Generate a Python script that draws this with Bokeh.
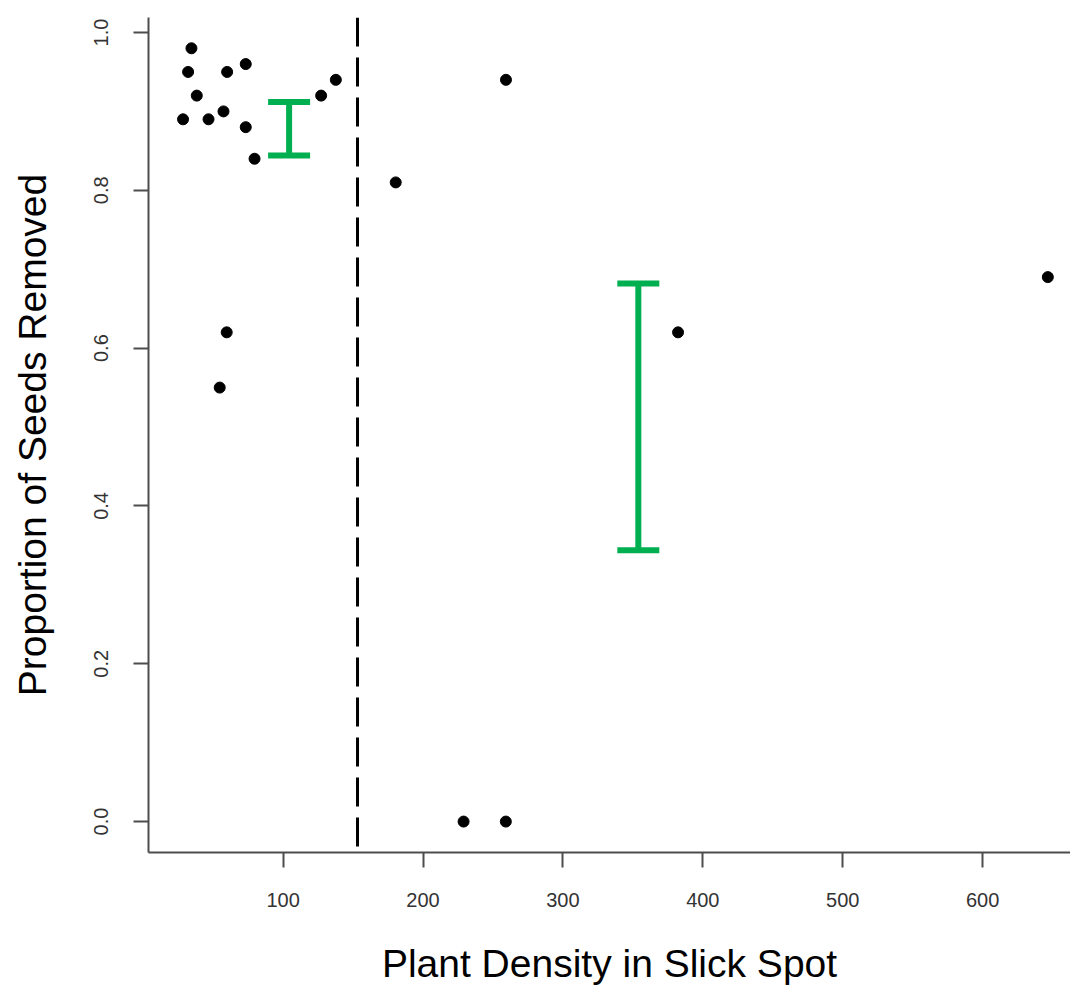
from bokeh.plotting import figure
from bokeh.models import (ColumnDataSource, Range1d, FixedTicker, Span, Whisker,
                          TeeHead, PrintfTickFormatter)
from bokeh.embed import file_html
from bokeh.resources import INLINE

# ---- data ----
density = [34.5, 32.1, 60.0, 73.3, 38.3, 28.5, 46.7, 57.4, 73.3, 79.6,
           127.2, 137.7, 180.5, 259.3, 59.7, 54.7, 382.3, 646.6, 229.0, 259.2]
removed = [0.98, 0.95, 0.95, 0.96, 0.92, 0.89, 0.89, 0.90, 0.88, 0.84,
           0.92, 0.94, 0.81, 0.94, 0.62, 0.55, 0.62, 0.69, 0.0, 0.0]

threshold = 153.2

ci_x = [104.3, 353.9]
ci_lower = [0.844, 0.344]
ci_upper = [0.912, 0.682]

x_ticks = [100, 200, 300, 400, 500, 600]
y_ticks = [0.0, 0.2, 0.4, 0.6, 0.8, 1.0]

x_title = "Plant Density in Slick Spot"
y_title = "Proportion of Seeds Removed"

# ---- figure ----
p = figure(width=1070, height=987, output_backend="svg", toolbar_location=None,
           x_range=Range1d(3.8, 662.8), y_range=Range1d(-0.0392, 1.019),
           min_border_left=148, min_border_right=0, min_border_top=17,
           min_border_bottom=134)
p.outline_line_color = None
p.background_fill_color = "white"
p.border_fill_color = "white"
p.xgrid.visible = False
p.ygrid.visible = False

axis_col = "#4d4d4d"
for ax in (p.xaxis[0], p.yaxis[0]):
    ax.axis_line_color = axis_col
    ax.axis_line_width = 2
    ax.major_tick_line_color = axis_col
    ax.major_tick_line_width = 2
    ax.major_tick_out = 15
    ax.major_tick_in = 0
    ax.minor_tick_line_color = None
    ax.major_label_text_font = "Liberation Sans"
    ax.major_label_text_font_size = "20px"
    ax.major_label_text_color = "#333333"
    ax.axis_label_text_font = "Liberation Sans"
    ax.axis_label_text_font_size = "39px"
    ax.axis_label_text_font_style = "normal"
    ax.axis_label_text_color = "black"

p.xaxis.ticker = FixedTicker(ticks=x_ticks)
p.yaxis.ticker = FixedTicker(ticks=y_ticks)
p.yaxis.formatter = PrintfTickFormatter(format="%.1f")
p.yaxis.major_label_orientation = "parallel"
p.xaxis.major_label_standoff = 25
p.yaxis.major_label_standoff = 25
p.xaxis.axis_label = x_title
p.yaxis.axis_label = y_title
p.xaxis.axis_label_standoff = 32
p.yaxis.axis_label_standoff = 38

# dashed threshold line
p.add_layout(Span(location=threshold, dimension="height", line_color="black",
                  line_width=3, line_dash="29 11"))

# green interval bars
green = "#00B050"
ci_src = ColumnDataSource(dict(x=ci_x, lo=ci_lower, hi=ci_upper))
p.add_layout(Whisker(source=ci_src, base="x", lower="lo", upper="hi",
                     line_color=green, line_width=6,
                     lower_head=TeeHead(size=42, line_color=green, line_width=6),
                     upper_head=TeeHead(size=42, line_color=green, line_width=6)))

# points
src = ColumnDataSource(dict(x=density, y=removed))
p.scatter("x", "y", source=src, size=11, fill_color="black", line_color="black")

open("out.html", "w").write(file_html(p, INLINE))
